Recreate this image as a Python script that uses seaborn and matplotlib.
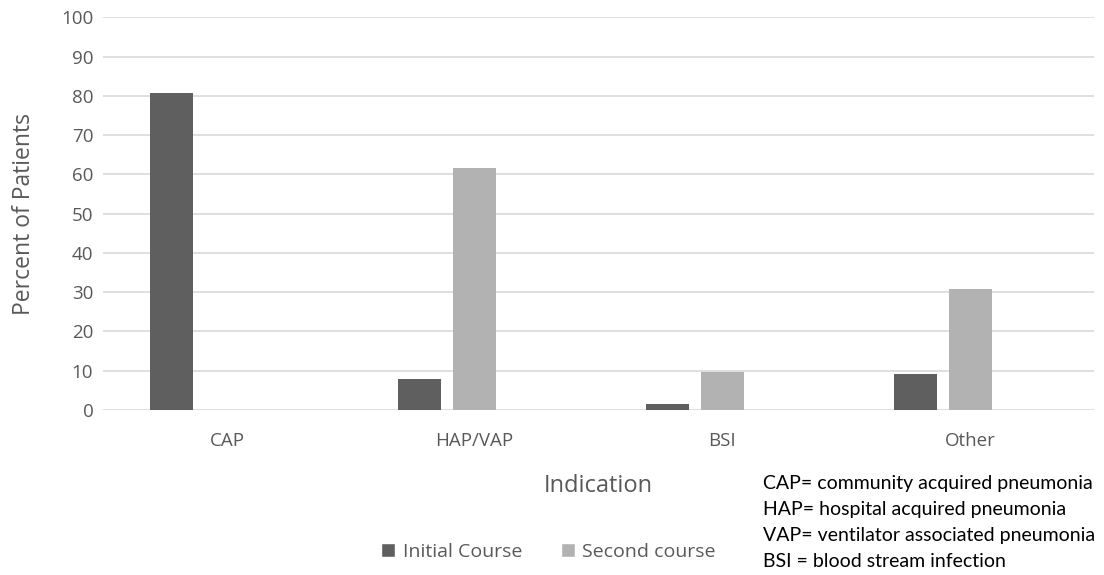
import matplotlib
matplotlib.use("Agg")
import matplotlib.pyplot as plt
import seaborn as sns
import pandas as pd
from matplotlib.patches import Patch

categories = ["CAP", "HAP/VAP", "BSI", "Other"]
initial_course = [80.7, 8.0, 1.6, 9.2]
second_course = [0.0, 61.5, 9.7, 30.8]
spacer = [0.0, 0.0, 0.0, 0.0]  # empty third series (keeps Excel-like offset)
series_names = ["Initial Course", "Second course", "_spacer"]
colors = ["#5f5f5f", "#b2b2b2", "#ffffff"]
y_ticks = [0, 10, 20, 30, 40, 50, 60, 70, 80, 90, 100]
notes = ["CAP= community acquired pneumonia",
         "HAP= hospital acquired pneumonia",
         "VAP= ventilator associated pneumonia",
         "BSI = blood stream infection"]

rows = []
for name, vals in zip(series_names, [initial_course, second_course, spacer]):
    for c, v in zip(categories, vals):
        rows.append({"Indication": c, "Series": name, "Value": v})
df = pd.DataFrame(rows)

sns.set_theme(style="white")
plt.rcParams["font.family"] = ["Open Sans", "DejaVu Sans"]
txt = "#595959"

fig = plt.figure(figsize=(11.04, 5.75), dpi=100)
ax = fig.add_axes([0.0933, 0.287, 0.8977, 0.683])

sns.barplot(data=df, x="Indication", y="Value", hue="Series",
            hue_order=series_names, order=categories,
            palette=colors, width=0.667, gap=0.216,
            linewidth=0, ax=ax, legend=False, errorbar=None)

ax.set_ylim(0, 100)
ax.set_xlim(-0.5, 3.5)
ax.set_yticks(y_ticks)
ax.yaxis.grid(True, color="#d9d9d9", linewidth=1.2)
ax.set_axisbelow(True)
for s in ax.spines.values():
    s.set_visible(False)
ax.tick_params(axis="both", length=0, labelsize=13.5, colors=txt)
ax.tick_params(axis="x", pad=16)
ax.tick_params(axis="y", pad=7)
ax.set_ylabel("Percent of Patients", fontsize=16.5, color=txt, labelpad=18)
ax.set_xlabel("Indication", fontsize=17, color=txt, labelpad=17)

handles = [Patch(facecolor=colors[0]), Patch(facecolor=colors[1])]
fig.legend(handles, series_names[:2], loc="center", bbox_to_anchor=(0.497, 0.040),
           ncol=2, frameon=False, fontsize=14, handlelength=0.7, handleheight=0.7,
           handletextpad=0.4, columnspacing=2.0, labelcolor=txt)

for i, line in enumerate(notes):
    fig.text(763 / 1104, 1 - (484 + i * 25.7) / 575, line, fontsize=14,
             family=["Lato", "DejaVu Sans"], color="#000000", va="center", ha="left")

fig.savefig("out.png", dpi=100)
